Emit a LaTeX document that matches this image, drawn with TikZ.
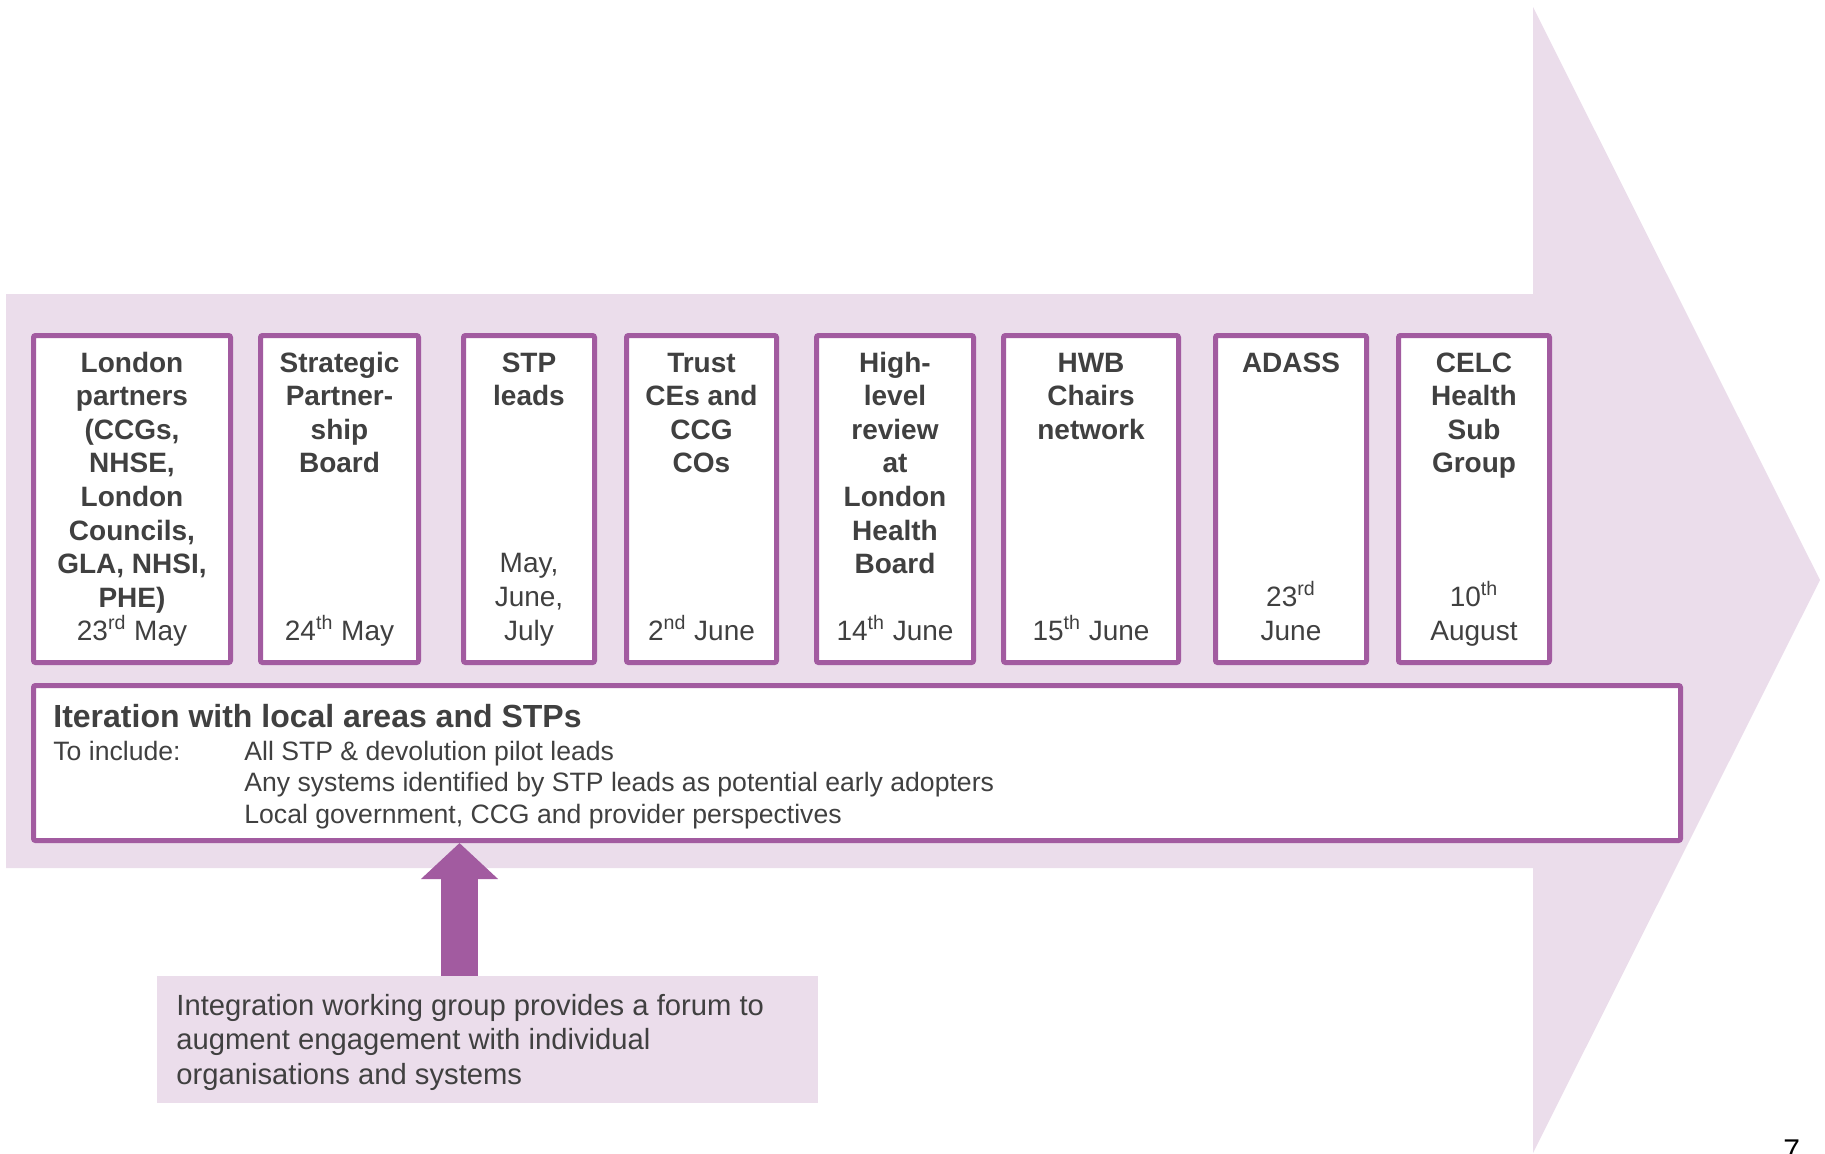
\documentclass[tikz,border=0pt]{standalone}
\usepackage{fontspec}
\setmainfont{Liberation Sans}
\usetikzlibrary{arrows.meta}
\definecolor{lav}{RGB}{235,221,235}
\definecolor{purp}{RGB}{162,91,160}
\definecolor{txt}{RGB}{64,64,64}
\newcommand{\ttl}[1]{\parbox[t]{100pt}{\centering\fontsize{14}{16.8}\selectfont\bfseries #1}}
\newcommand{\dte}[1]{\parbox[b]{100pt}{\centering\fontsize{14}{16.8}\selectfont #1}}
\begin{document}
\begin{tikzpicture}[x=0.5pt,y=-0.5pt,
  box/.style={draw=purp,line width=2.5pt,fill=white,inner sep=0pt,rounded corners=1pt,minimum height=163.5pt},
  lbl/.style={inner sep=0pt,text=txt},
  bigarrow/.style={purp,line width=18.5pt,-{Triangle[width=37.5pt,length=18pt]}}]
\useasboundingbox (0,0) rectangle (1825,1153);
\fill[lav] (6,294) -- (1533,294) -- (1533,7) -- (1820,580) -- (1533,1153) -- (1533,868) -- (6,868) -- cycle;

% timeline boxes
\node[box,minimum width=98.5pt] (b1) at (132,499) {};
\node[box,minimum width=79pt]   (b2) at (339.5,499) {};
\node[box,minimum width=65.5pt] (b3) at (529,499) {};
\node[box,minimum width=75pt]   (b4) at (701.5,499) {};
\node[box,minimum width=78.5pt] (b5) at (895,499) {};
\node[box,minimum width=87.5pt] (b6) at (1091,499) {};
\node[box,minimum width=75.5pt] (b7) at (1291,499) {};
\node[box,minimum width=75.5pt] (b8) at (1474,499) {};

\node[lbl,anchor=base] (t1) at (132,372) {\ttl{London\\partners\\(CCGs,\\NHSE,\\London\\Councils,\\GLA, NHSI,\\PHE)}};
\node[lbl,anchor=base] (t2) at (339.5,372) {\ttl{Strategic\\Partner-\\ship\\Board}};
\node[lbl,anchor=base] (t3) at (529,372) {\ttl{STP\\leads}};
\node[lbl,anchor=base] (t4) at (701.5,372) {\ttl{Trust\\CEs and\\CCG\\COs}};
\node[lbl,anchor=base] (t5) at (895,372) {\ttl{High-\\level\\review\\at\\London\\Health\\Board}};
\node[lbl,anchor=base] (t6) at (1091,372) {\ttl{HWB\\Chairs\\network}};
\node[lbl,anchor=base] (t7) at (1291,372) {\ttl{ADASS}};
\node[lbl,anchor=base] (t8) at (1474,372) {\ttl{CELC\\Health\\Sub\\Group}};

\node[lbl,anchor=base] (d1) at (132,640) {\dte{23\textsuperscript{rd} May}};
\node[lbl,anchor=base] (d2) at (339.5,640) {\dte{24\textsuperscript{th} May}};
\node[lbl,anchor=base] (d3) at (529,640) {\dte{May,\\June,\\July}};
\node[lbl,anchor=base] (d4) at (701.5,640) {\dte{2\textsuperscript{nd} June}};
\node[lbl,anchor=base] (d5) at (895,640) {\dte{14\textsuperscript{th} June}};
\node[lbl,anchor=base] (d6) at (1091,640) {\dte{15\textsuperscript{th} June}};
\node[lbl,anchor=base] (d7) at (1291,640) {\dte{23\textsuperscript{rd}\\June}};
\node[lbl,anchor=base] (d8) at (1474,640) {\dte{10\textsuperscript{th}\\August}};

% iteration box
\node[box,minimum width=823.5pt,minimum height=77.5pt] (iter) at (857,763) {};
\node[lbl,anchor=base west] (ih) at (53,727) {\fontsize{16}{19}\selectfont\bfseries Iteration with local areas and STPs};
\node[lbl,anchor=base west] (inc) at (53,760) {\fontsize{13.3}{15.8}\selectfont To include:};
\node[lbl,anchor=base west] (items) at (244,760) {\parbox[t]{440pt}{\raggedright\fontsize{13.3}{15.8}\selectfont All STP \& devolution pilot leads\\Any systems identified by STP leads as potential early adopters\\Local government, CCG and provider perspectives}};

% note box
\node[fill=lav,inner sep=0pt,minimum width=330.5pt,minimum height=63.5pt] (note) at (487.5,1039.5) {};
\node[lbl,anchor=base west] (nt) at (176,1015) {\parbox[t]{320pt}{\raggedright\fontsize{14.6}{17.25}\selectfont Integration working group provides a forum to\\augment engagement with individual\\organisations and systems}};

\coordinate (ax) at (459.5,0);
\draw[bigarrow] (note.north -| ax) -- (iter.south -| ax);

\node[anchor=north west,inner sep=0pt,font=\fontsize{15}{18}\selectfont] (pg) at (1783,1139) {7};
\end{tikzpicture}
\end{document}
